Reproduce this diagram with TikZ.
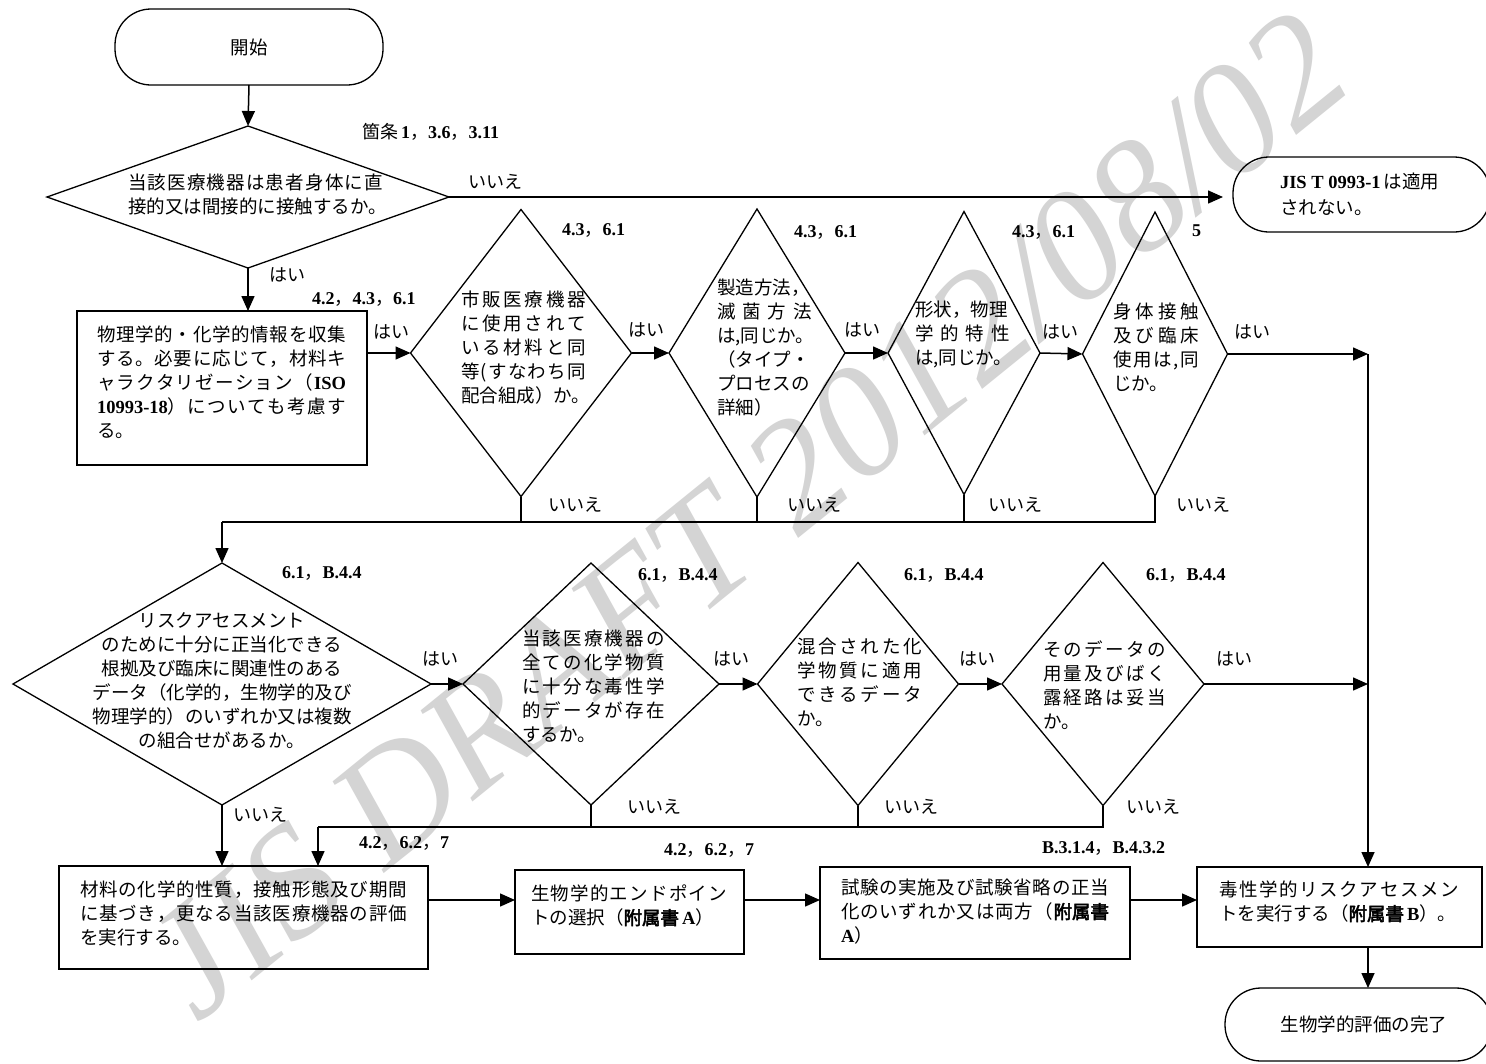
\documentclass[tikz,border=0pt]{standalone}
\usepackage{fontspec}
\setmainfont{Liberation Serif}
\newfontfamily\jp{Noto Sans CJK JP}
\newfontfamily\jpb{Noto Sans CJK JP}[FakeBold=3]
\usetikzlibrary{arrows.meta,shapes.geometric}
\makeatletter
\newcommand\SPn[1]{\@tfor\sp@c:=#1\do{\sp@c\hfil}\unskip}
\makeatother
\newcommand\SP[2]{\makebox[#1pt][s]{\SPn{#2}}}
\newcommand\bn[1]{{\rmfamily\bfseries #1}}
\newcommand\fz[1]{{\jpb #1}}
\tikzset{
 shp/.style={draw, line width=1.3pt, inner sep=0pt, outer sep=0pt},
 dia/.style={shp, diamond, aspect=1},
 box/.style={shp, rectangle, anchor=north west},
 term/.style={shp, rectangle, rounded corners=36pt, font=\jp\fontsize{18.5}{24}\selectfont},
 txt/.style={inner sep=0pt, outer sep=0pt, font=\jp\fontsize{18.5}{24}\selectfont, align=left, anchor=north west},
 lbl/.style={inner sep=0pt, outer sep=0pt, font=\jp\fontsize{18}{22}\selectfont, anchor=west},
 conn/.style={line width=1.5pt},
 arr/.style={conn, -{Triangle[length=15pt,width=13pt]}},
}
\begin{document}
\begin{tikzpicture}[x=1pt,y=-1pt]
\useasboundingbox (0,0) rectangle (1486,1063);
\clip (0,0) rectangle (1486,1063);
\fill[white] (0,0) rectangle (1486,1063);
% watermark
\node[font=\rmfamily\itshape\fontsize{158}{158}\selectfont, text=black!17, rotate=39, inner sep=0pt] (wm) at (745,515) {JIS DRAFT 2012/08/02};

% terminals
\node[term, minimum width=268pt, minimum height=76pt] (st) at (249,47) {開始};
\node[term, minimum width=257pt, minimum height=75pt] (jis) at (1361.5,194.5) {};
\node[term, minimum width=267pt, minimum height=73pt] (en) at (1358.5,1024.5) {};
\node[txt] (jist) at (1280,173) {\bn{JIS T 0993-1}\,は適用\\[2pt]されない。};
\node[txt, anchor=center] (ent) at (1364,1024) {生物学的評価の完了};

% diamonds
\node[dia, minimum width=402pt, minimum height=142pt] (d1) at (248,197) {};
\node[dia, minimum width=221pt, minimum height=287pt] (dA) at (521,353) {};
\node[dia, minimum width=176pt, minimum height=288pt] (dB) at (757,353) {};
\node[dia, minimum width=152pt, minimum height=283pt] (dC) at (964,353) {};
\node[dia, minimum width=145pt, minimum height=284pt] (dD) at (1155,354) {};
\node[dia, minimum width=418pt, minimum height=242pt] (dE) at (222,684) {};
\node[dia, minimum width=256pt, minimum height=242pt] (dF) at (591,684) {};
\node[dia, minimum width=201pt, minimum height=243pt] (dG) at (858,684) {};
\node[dia, minimum width=202pt, minimum height=243pt] (dH) at (1103,684) {};

% boxes
\node[box, minimum width=290pt, minimum height=154pt] (b1) at (77,311) {};
\node[box, minimum width=369pt, minimum height=103pt] (b2) at (59,866) {};
\node[box, minimum width=229pt, minimum height=84pt] (b3) at (515,870) {};
\node[box, minimum width=310pt, minimum height=92pt] (b4) at (820,867) {};
\node[box, minimum width=285pt, minimum height=80pt] (b5) at (1197,867) {};

% texts
\node[txt] (d1t) at (128,174) {\SP{255}{当該医療機器は患者身体に直}\\\SP{255}{接的又は間接的に接触するか。}};
\node[txt] (b1t) at (97,326) {\SP{249}{物理学的・化学的情報を収集}\\\SP{249}{する。必要に応じて，材料キ}\\\makebox[249pt][s]{\SPn{ャラクタリゼーション（}\hfil\bn{ISO}}\\\makebox[249pt][s]{\bn{10993-18}\SPn{）についても考慮す}}\\る。};
\node[txt] (dAt) at (461,291) {\SP{125}{市販医療機器}\\\SP{125}{に使用されて}\\\SP{125}{いる材料と同}\\\SP{125}{等(すなわち同}\\配合組成）か。};
\node[txt] (dBt) at (717,279) {製造方法，\\\SP{95}{滅菌方法}\\は,同じか。\\（タイプ・\\プロセスの\\詳細）};
\node[txt] (dCt) at (915,301) {形状，物理\\\SP{95}{学的特性}\\は,同じか。};
\node[txt] (dDt) at (1113,303) {\SP{86}{身体接触}\\\SP{86}{及び臨床}\\\SP{86}{使用は,同}\\じか。};
\node[txt, align=center, anchor=north] (dEt) at (222,613) {リスクアセスメント\\のために十分に正当化できる\\根拠及び臨床に関連性のある\\データ（化学的，生物学的及び\\物理学的）のいずれか又は複数\\の組合せがあるか。};
\node[txt] (dFt) at (522,630) {\SP{143}{当該医療機器の}\\\SP{143}{全ての化学物質}\\\SP{143}{に十分な毒性学}\\\SP{143}{的データが存在}\\するか。};
\node[txt] (dGt) at (797,638) {\SP{125}{混合された化}\\\SP{125}{学物質に適用}\\\SP{125}{できるデータ}\\か。};
\node[txt] (dHt) at (1043,641) {\SP{123}{そのデータの}\\\SP{123}{用量及びばく}\\\SP{123}{露経路は妥当}\\か。};
\node[txt] (b2t) at (80,881) {\SP{327}{材料の化学的性質，接触形態及び期間}\\\SP{327}{に基づき，更なる当該医療機器の評価}\\を実行する。};
\node[txt] (b3t) at (531,885) {\SP{196}{生物学的エンドポイン}\\トの選択（\fz{附属書}\,\bn{A}）};
\node[txt] (b4t) at (841,879) {\SP{268}{試験の実施及び試験省略の正当}\\\makebox[268pt][s]{\SPn{化のいずれか又は両方（}\hfil\fz{附属書}}\\\bn{A}）};
\node[txt] (b5t) at (1219,881) {\SP{240}{毒性学的リスクアセスメン}\\トを実行する（\fz{附属書}\,\bn{B}）。};

% labels
\node[lbl] (l0) at (362,132) {箇条\,\bn{1}，\bn{3.6}，\bn{3.11}};
\node[lbl] (n0) at (468,182) {いいえ};
\node[lbl] (y0) at (269,275) {はい};
\node[lbl] (l1) at (312,299) {\bn{4.2}，\bn{4.3}，\bn{6.1}};
\node[lbl] (y1) at (373,332) {はい};
\node[lbl] (lA) at (562,231) {\bn{4.3}，\bn{6.1}};
\node[lbl] (yA) at (628,330) {はい};
\node[lbl] (lB) at (794,232) {\bn{4.3}，\bn{6.1}};
\node[lbl] (yB) at (844,330) {はい};
\node[lbl] (lC) at (1012,232) {\bn{4.3}，\bn{6.1}};
\node[lbl] (yC) at (1042,332) {はい};
\node[lbl] (lD) at (1192,231) {\bn{5}};
\node[lbl] (yD) at (1234,332) {はい};
\node[lbl] (nA) at (548,505) {いいえ};
\node[lbl] (nB) at (787,505) {いいえ};
\node[lbl] (nC) at (988,505) {いいえ};
\node[lbl] (nD) at (1176,505) {いいえ};
\node[lbl] (lE) at (282,573) {\bn{6.1}，\bn{B.4.4}};
\node[lbl] (lF) at (638,575) {\bn{6.1}，\bn{B.4.4}};
\node[lbl] (lG) at (904,575) {\bn{6.1}，\bn{B.4.4}};
\node[lbl] (lH) at (1146,575) {\bn{6.1}，\bn{B.4.4}};
\node[lbl] (yE) at (422,659) {はい};
\node[lbl] (yF) at (713,659) {はい};
\node[lbl] (yG) at (959,659) {はい};
\node[lbl] (yH) at (1216,659) {はい};
\node[lbl] (nE) at (233,815) {いいえ};
\node[lbl] (nF) at (627,807) {いいえ};
\node[lbl] (nG) at (884,807) {いいえ};
\node[lbl] (nH) at (1126,807) {いいえ};
\node[lbl] (l2) at (359,843) {\bn{4.2}，\bn{6.2}，\bn{7}};
\node[lbl] (l3) at (664,850) {\bn{4.2}，\bn{6.2}，\bn{7}};
\node[lbl] (l4) at (1042,848) {\bn{B.3.1.4}，\bn{B.4.3.2}};

% connectors
\draw[arr] (st.south) -- (d1.north);
\draw[arr, shorten >=10pt] (d1.east) -- (d1.east -| jis.west);
\draw[arr] (d1.south) -- (d1.south |- b1.north);
\draw[arr] (b1.east |- dA.west) -- (dA.west);
\draw[arr] (dA.east) -- (dB.west);
\draw[arr] (dB.east) -- (dC.west);
\draw[arr] (dC.east) -- (dD.west);
\coordinate (rj1) at (1368,354);
\draw[arr] (dD.east) -- (rj1);
\draw[arr] (rj1) -- (rj1 |- b5.north);
\coordinate (n1) at (222,522);
\draw[conn] (dA.south) -- (dA.south |- n1);
\draw[conn] (dB.south) -- (dB.south |- n1);
\draw[conn] (dC.south) -- (dC.south |- n1);
\draw[conn] (dD.south) |- (n1);
\draw[arr] (n1) -- (dE.north);
\draw[arr] (dE.east) -- (dF.west);
\draw[arr] (dF.east) -- (dG.west);
\draw[arr] (dG.east) -- (dH.west);
\coordinate (rj2) at (1368,684);
\draw[arr] (dH.east) -- (rj2);
\draw[arr] (dE.south) -- (dE.south |- b2.north);
\coordinate (n2) at (318,827);
\draw[conn] (dF.south) -- (dF.south |- n2);
\draw[conn] (dG.south) -- (dG.south |- n2);
\draw[conn] (dH.south) |- (n2);
\draw[arr] (n2) -- (n2 |- b2.north);
\coordinate (yr) at (0,900);
\draw[arr] (b2.east |- yr) -- (b3.west |- yr);
\draw[arr] (b3.east |- yr) -- (b4.west |- yr);
\draw[arr] (b4.east |- yr) -- (b5.west |- yr);
\draw[arr] (rj1 |- b5.south) -- (rj1 |- en.north);
\end{tikzpicture}
\end{document}
